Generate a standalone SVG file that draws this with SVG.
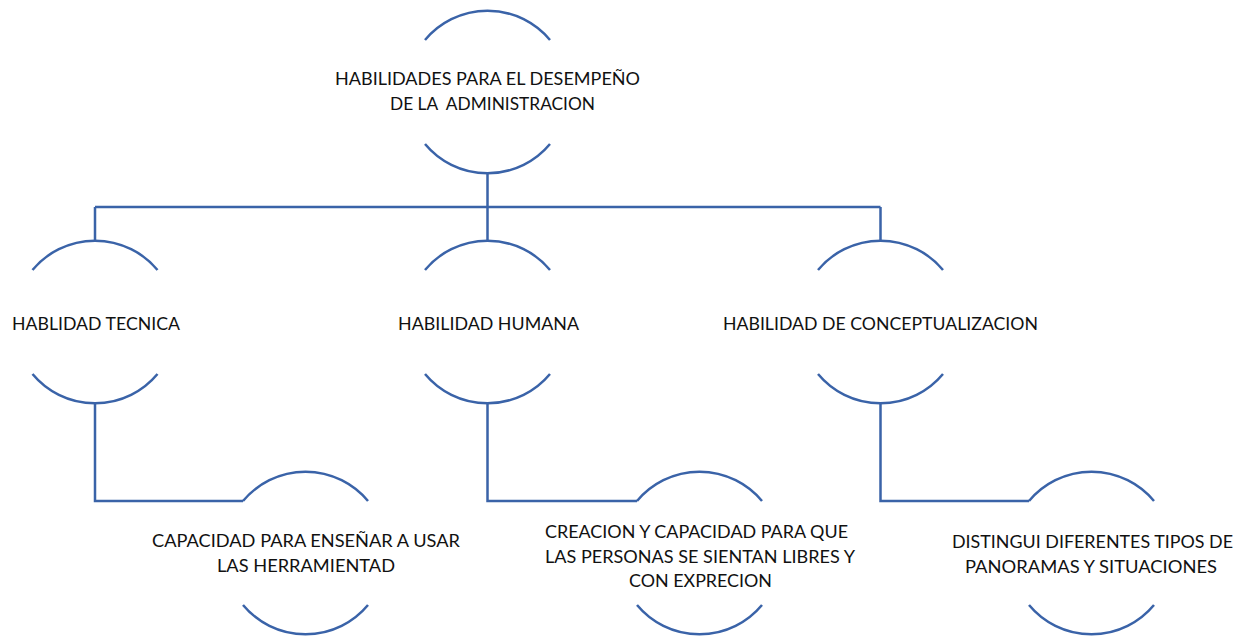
<svg xmlns="http://www.w3.org/2000/svg" width="1253" height="640" viewBox="0 0 1253 640">
<style>
.arc{fill:none;stroke:#3a63a8;stroke-width:2.5}
.con{fill:none;stroke:#3a63a8;stroke-width:2.5}
text{font-family:Lato,"Open Sans","Liberation Sans",sans-serif;font-size:17.5px;fill:#111}
</style>
<rect width="1253" height="640" fill="#fff"/>
<g id="connectors">
<path class="con" d="M487.5,173 V207 M95,207 H880.5 M95,207 V241 M487.5,207 V241 M880.5,207 V241"/>
<path class="con" d="M95,403 V501 H243"/>
<path class="con" d="M487.5,403 V501 H637"/>
<path class="con" d="M880.5,403 V501 H1029"/>
</g>
<g id="node-root">
<path class="arc" d="M425,40 A81.3,81.3 0 0 1 550,40"/>
<path class="arc" d="M425,144 A81.3,81.3 0 0 0 550,144"/>
<text x="335" y="85" textLength="305" lengthAdjust="spacingAndGlyphs">HABILIDADES PARA EL DESEMPEÑO</text>
<text x="390" y="110" textLength="205" lengthAdjust="spacingAndGlyphs" xml:space="preserve">DE LA  ADMINISTRACION</text>
</g>
<g id="node-tecnica">
<path class="arc" d="M32.5,270 A81.3,81.3 0 0 1 157.5,270"/>
<path class="arc" d="M32.5,374 A81.3,81.3 0 0 0 157.5,374"/>
<text x="12" y="330" textLength="168" lengthAdjust="spacingAndGlyphs">HABLIDAD TECNICA</text>
</g>
<g id="node-humana">
<path class="arc" d="M425,270 A81.3,81.3 0 0 1 550,270"/>
<path class="arc" d="M425,374 A81.3,81.3 0 0 0 550,374"/>
<text x="398" y="330" textLength="181" lengthAdjust="spacingAndGlyphs">HABILIDAD HUMANA</text>
</g>
<g id="node-concept">
<path class="arc" d="M818,270 A81.3,81.3 0 0 1 943,270"/>
<path class="arc" d="M818,374 A81.3,81.3 0 0 0 943,374"/>
<text x="723" y="330" textLength="315" lengthAdjust="spacingAndGlyphs">HABILIDAD DE CONCEPTUALIZACION</text>
</g>
<g id="node-capacidad">
<path class="arc" d="M243,501 A81.3,81.3 0 0 1 368,501"/>
<path class="arc" d="M243,605 A81.3,81.3 0 0 0 368,605"/>
<text x="152" y="547" textLength="308" lengthAdjust="spacingAndGlyphs">CAPACIDAD PARA ENSEÑAR A USAR</text>
<text x="217" y="572" textLength="178" lengthAdjust="spacingAndGlyphs">LAS HERRAMIENTAD</text>
</g>
<g id="node-creacion">
<path class="arc" d="M637,501 A81.3,81.3 0 0 1 762,501"/>
<path class="arc" d="M637,605 A81.3,81.3 0 0 0 762,605"/>
<text x="545" y="538" textLength="303" lengthAdjust="spacingAndGlyphs">CREACION Y CAPACIDAD PARA QUE</text>
<text x="545" y="563" textLength="310" lengthAdjust="spacingAndGlyphs">LAS PERSONAS SE SIENTAN LIBRES Y</text>
<text x="629" y="587" textLength="143" lengthAdjust="spacingAndGlyphs">CON EXPRECION</text>
</g>
<g id="node-distingui">
<path class="arc" d="M1029,501 A81.3,81.3 0 0 1 1154,501"/>
<path class="arc" d="M1029,605 A81.3,81.3 0 0 0 1154,605"/>
<text x="952" y="548" textLength="281" lengthAdjust="spacingAndGlyphs">DISTINGUI DIFERENTES TIPOS DE</text>
<text x="965" y="573" textLength="252" lengthAdjust="spacingAndGlyphs">PANORAMAS Y SITUACIONES</text>
</g>
</svg>
